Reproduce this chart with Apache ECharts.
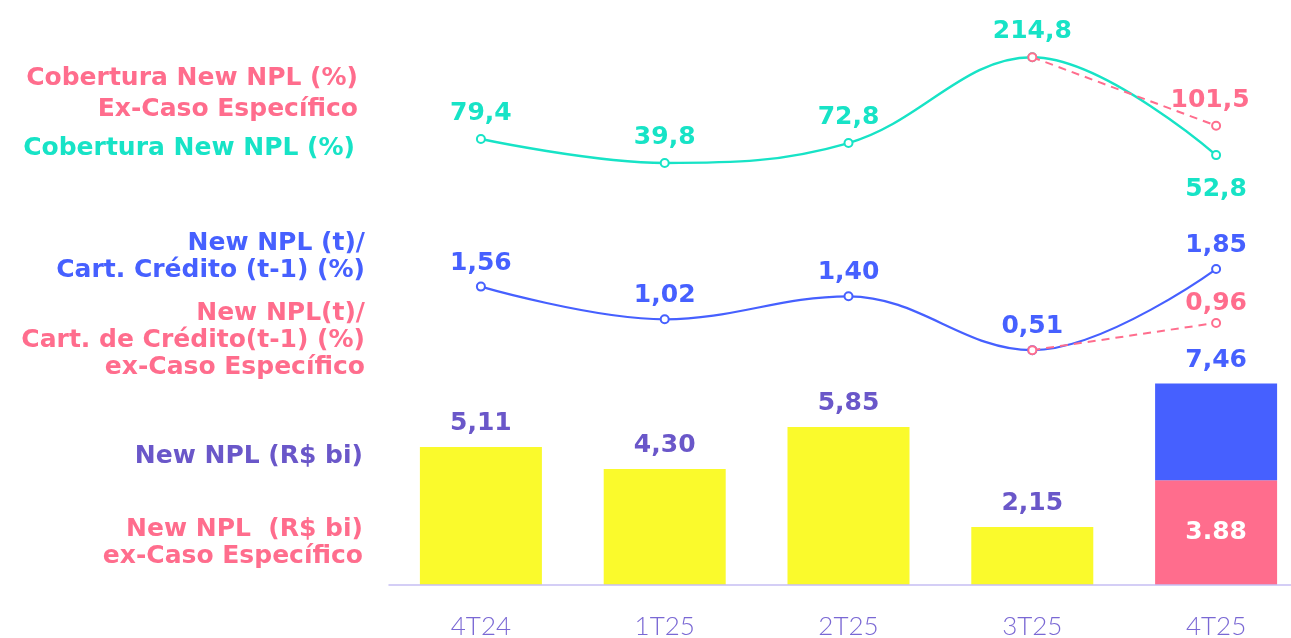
<!DOCTYPE html>
<html>
<head>
<meta charset="utf-8">
<script src="https://cdn.jsdelivr.net/npm/echarts@6/dist/echarts.min.js"></script>
<style>
  html, body { margin: 0; padding: 0; background: #ffffff; }
  #chart { width: 1291px; height: 638px; }
</style>
</head>
<body>
<div id="chart"></div>
<script>
// Quarters on the shared x axis
const quarters = ['4T24', '1T25', '2T25', '3T25', '4T25'];

// Cobertura New NPL (%) and the ex-specific-case variant
const coverage = [79.4, 39.8, 72.8, 214.8, 52.8];
const coverageEx = [null, null, null, 214.8, 101.5];

// New NPL(t) / Cart. Crédito(t-1) (%) and the ex-specific-case variant
const nplRatio = [1.56, 1.02, 1.40, 0.51, 1.85];
const nplRatioEx = [null, null, null, 0.51, 0.96];

// New NPL (R$ bi) and the ex-specific-case variant
const newNpl = [5.11, 4.30, 5.85, 2.15, 7.46];
const newNplEx = [null, null, null, null, 3.88];

const TEAL = '#17E3C6';
const PINK = '#FF6D8D';
const BLUE = '#4660FF';
const PURPLE = '#6A57C9';
const YELLOW = '#FAFA2C';
const FONT = '"DejaVu Sans", sans-serif';
const VALUE_SIZE = 25;
const SMOOTH = 0.38;

const comma = (v, d) => v.toFixed(d).replace('.', ',');

// Bars: yellow where there is no ex-case split, pink+blue stack where there is
const yellowBars = newNpl.map((v, i) => newNplEx[i] == null ? v : '-');
const pinkBars = newNpl.map((v, i) => newNplEx[i] == null ? '-' : newNplEx[i]);
const blueBars = newNpl.map((v, i) => newNplEx[i] == null ? '-' : +(v - newNplEx[i]).toFixed(2));

// The last coverage value sits below its point
const coverageData = coverage.map((v, i) => i === coverage.length - 1
  ? { value: v, label: { position: 'bottom', distance: 17 } }
  : v);

const valueLabel = (color, pos, dist) => ({
  show: true, position: pos, distance: dist, color: color,
  fontFamily: FONT, fontWeight: 'bold', fontSize: VALUE_SIZE
});

const chart = echarts.init(document.getElementById('chart'), null, { renderer: 'canvas' });

const gridBase = { left: 389, right: -17, outerBoundsMode: 'none', containLabel: false };
const hiddenX = (idx) => ({
  type: 'category', gridIndex: idx, data: quarters, boundaryGap: true,
  axisLine: { show: false }, axisTick: { show: false }, axisLabel: { show: false }, splitLine: { show: false }
});
const hiddenY = (idx, max) => ({
  type: 'value', gridIndex: idx, min: 0, max: max,
  axisLine: { show: false }, axisTick: { show: false }, axisLabel: { show: false }, splitLine: { show: false }
});

// Left-side row captions
const captions = [
  { t: 'Cobertura New NPL (%)', x: 358, y: 78, c: PINK },
  { t: 'Ex-Caso Específico', x: 358, y: 109, c: PINK },
  { t: 'Cobertura New NPL (%)', x: 355, y: 148, c: TEAL },
  { t: 'New NPL (t)/', x: 365, y: 243, c: BLUE },
  { t: 'Cart. Crédito (t-1) (%)', x: 365, y: 270, c: BLUE },
  { t: 'New NPL(t)/', x: 365, y: 313, c: PINK },
  { t: 'Cart. de Crédito(t-1) (%)', x: 365, y: 340, c: PINK },
  { t: 'ex-Caso Específico', x: 365, y: 367, c: PINK },
  { t: 'New NPL (R$ bi)', x: 363, y: 456, c: PURPLE },
  { t: 'New NPL  (R$ bi)', x: 363, y: 529, c: PINK },
  { t: 'ex-Caso Específico', x: 363, y: 556, c: PINK }
];

const option = {
  backgroundColor: '#ffffff',
  animation: false,
  grid: [
    Object.assign({ top: 36, height: 151 }, gridBase),
    Object.assign({ top: 260, height: 121 }, gridBase),
    Object.assign({ top: 369, height: 216 }, gridBase)
  ],
  xAxis: [
    hiddenX(0),
    hiddenX(1),
    {
      type: 'category', gridIndex: 2, data: quarters, boundaryGap: true,
      axisLine: { show: true, lineStyle: { color: '#C6BEF4', width: 1.5 } },
      axisTick: { show: false },
      axisLabel: { color: '#7A68D4', fontFamily: 'Lato, sans-serif', fontWeight: 300, fontSize: 26, margin: 29 },
      z: 5
    }
  ],
  yAxis: [hiddenY(0, 250), hiddenY(1, 2), hiddenY(2, 8)],
  graphic: captions.map(c => ({
    type: 'text', x: c.x, y: c.y,
    style: {
      text: c.t, fill: c.c, align: 'right', verticalAlign: 'middle',
      font: 'bold 25px ' + FONT
    }
  })),
  series: [
    {
      type: 'line', xAxisIndex: 0, yAxisIndex: 0, data: coverageData, smooth: SMOOTH,
      symbol: 'circle', symbolSize: 8,
      itemStyle: { color: '#ffffff', borderColor: TEAL, borderWidth: 2 },
      lineStyle: { color: TEAL, width: 2.4 },
      label: Object.assign(valueLabel(TEAL, 'top', 8), {
        formatter: p => comma(p.value, 1)
      }),
      z: 2
    },
    {
      type: 'line', xAxisIndex: 0, yAxisIndex: 0, data: coverageEx,
      symbol: 'circle', symbolSize: 8,
      itemStyle: { color: '#ffffff', borderColor: PINK, borderWidth: 2 },
      lineStyle: { color: PINK, width: 2, type: [8, 6] },
      label: Object.assign(valueLabel(PINK, 'top', 8), {
        offset: [-6, 0],
        formatter: p => p.dataIndex === 4 ? comma(p.value, 1) : ''
      }),
      z: 3
    },
    {
      type: 'line', xAxisIndex: 1, yAxisIndex: 1, data: nplRatio, smooth: SMOOTH,
      symbol: 'circle', symbolSize: 8,
      itemStyle: { color: '#ffffff', borderColor: BLUE, borderWidth: 2 },
      lineStyle: { color: BLUE, width: 2.2 },
      label: Object.assign(valueLabel(BLUE, 'top', 6), {
        formatter: p => comma(p.value, 2)
      }),
      z: 2
    },
    {
      type: 'line', xAxisIndex: 1, yAxisIndex: 1, data: nplRatioEx,
      symbol: 'circle', symbolSize: 8,
      itemStyle: { color: '#ffffff', borderColor: PINK, borderWidth: 2 },
      lineStyle: { color: PINK, width: 2, type: [8, 6] },
      label: Object.assign(valueLabel(PINK, 'top', 2), {
        formatter: p => p.dataIndex === 4 ? comma(p.value, 2) : ''
      }),
      z: 3
    },
    {
      type: 'bar', xAxisIndex: 2, yAxisIndex: 2, stack: 'npl', data: yellowBars, barWidth: 122,
      itemStyle: { color: YELLOW },
      label: Object.assign(valueLabel(PURPLE, 'top', 11), {
        formatter: p => comma(p.value, 2)
      })
    },
    {
      type: 'bar', xAxisIndex: 2, yAxisIndex: 2, stack: 'npl', data: pinkBars, barWidth: 122,
      itemStyle: { color: PINK },
      label: Object.assign(valueLabel('#ffffff', 'inside', 0), {
        formatter: p => p.value.toFixed(2)
      })
    },
    {
      type: 'bar', xAxisIndex: 2, yAxisIndex: 2, stack: 'npl', data: blueBars, barWidth: 122,
      itemStyle: { color: BLUE },
      label: Object.assign(valueLabel(BLUE, 'top', 11), {
        formatter: p => comma(newNpl[p.dataIndex], 2)
      })
    }
  ]
};

chart.setOption(option);
</script>
</body>
</html>
